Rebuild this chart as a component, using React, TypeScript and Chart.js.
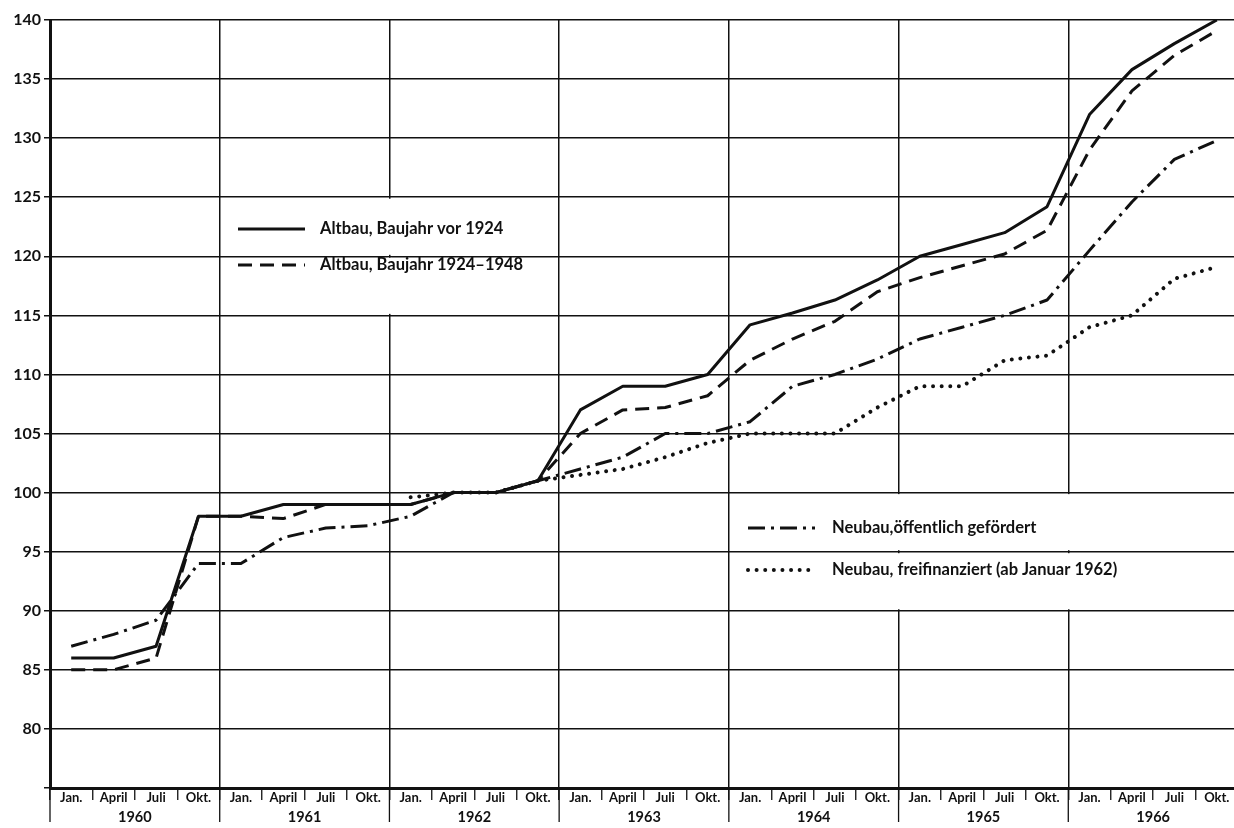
import React, { useEffect, useRef } from 'react';
import { Chart, registerables } from 'chart.js';

Chart.register(...registerables);

// ---- data ----
const quarterLabels = ['Jan.', 'April', 'Juli', 'Okt.'];
const yearLabels = ['1960', '1961', '1962', '1963', '1964', '1965', '1966'];

const altbauVor1924 = [
  86, 86, 87, 98,
  98, 99, 99, 99,
  99, 100, 100, 101,
  107, 109, 109, 110,
  114.2, 115.2, 116.3, 118,
  120, 121, 122, 124.2,
  132, 135.8, 138, 140,
];
const altbau1924bis1948 = [
  85, 85, 86, 98,
  98, 97.8, 99, 99,
  99, 100, 100, 101,
  105, 107, 107.2, 108.2,
  111.2, 113, 114.5, 117,
  118.2, 119.2, 120.2, 122.2,
  129, 134, 137, 139.1,
];
const neubauOeffentlich = [
  87, 88, 89.2, 94,
  94, 96.2, 97, 97.2,
  98, 100, 100, 101,
  102, 103, 105, 105,
  106, 109, 110, 111.3,
  113, 114, 115, 116.3,
  120.5, 124.6, 128.2, 129.8,
];
const neubauFreifinanziert = [
  null, null, null, null,
  null, null, null, null,
  99.6, 100, 100, 101,
  101.5, 102, 103, 104.2,
  105, 105, 105, 107.2,
  109, 109, 111.2, 111.6,
  114, 115, 118.1, 119.1,
];

const seriesNames = [
  'Altbau, Baujahr vor 1924',
  'Altbau, Baujahr 1924\u20131948',
  'Neubau,\u00f6ffentlich gef\u00f6rdert',
  'Neubau, freifinanziert (ab Januar 1962)',
];

const categories: string[] = [];
yearLabels.forEach(() => quarterLabels.forEach((q) => categories.push(q)));

const FONT = 'Lato, "Open Sans", sans-serif';
const INK = '#111';

const dashes: number[][] = [[], [14, 8], [17, 6, 3, 6], [0.01, 8.6]];
const widths = [3, 3, 3, 4];
const caps = ['butt', 'butt', 'butt', 'round'];

const overlayPlugin = {
  id: 'overlay',
  beforeDatasetsDraw(chart: any) {
    const { ctx } = chart;
    const xs = chart.scales.x;
    const ys = chart.scales.y;
    const half = (xs.getPixelForValue(1) - xs.getPixelForValue(0)) / 2;
    const gaps = [
      { idx: 8, top: 125, mid: 120, bottom: 115 },
      { idx: 20, top: 100, mid: 95, bottom: 90 },
      { idx: 24, top: 100, mid: 95, bottom: 90 },
    ];
    ctx.save();
    ctx.fillStyle = '#fff';
    gaps.forEach((g) => {
      const x = xs.getPixelForValue(g.idx) - half;
      const yt = ys.getPixelForValue(g.top);
      const ym = ys.getPixelForValue(g.mid);
      const yb = ys.getPixelForValue(g.bottom);
      ctx.fillRect(x - 2, yt + 1.5, 4, ym - yt - 3);
      ctx.fillRect(x - 2, ym + 1.5, 4, yb - ym - 3);
    });
    ctx.restore();
  },
  afterDraw(chart: any) {
    const { ctx } = chart;
    const xs = chart.scales.x;
    const half = (xs.getPixelForValue(1) - xs.getPixelForValue(0)) / 2;
    const axisY = chart.chartArea.bottom;
    ctx.save();
    // year separators and year labels
    ctx.strokeStyle = INK;
    ctx.lineWidth = 1.3;
    ctx.fillStyle = INK;
    ctx.font = `bold 14.5px ${FONT}`;
    ctx.textAlign = 'center';
    ctx.textBaseline = 'middle';
    yearLabels.forEach((yr, k) => {
      const xl = xs.getPixelForValue(k * 4) - half;
      ctx.beginPath();
      ctx.moveTo(xl, axisY);
      ctx.lineTo(xl, axisY + 34);
      ctx.stroke();
      const xc = (xs.getPixelForValue(k * 4 + 1) + xs.getPixelForValue(k * 4 + 2)) / 2;
      ctx.fillText(yr, xc, axisY + 29);
    });
    // legend
    const entries = [
      { i: 0, x0: 238, x1: 305, tx: 320, y: 229 },
      { i: 1, x0: 238, x1: 305, tx: 320, y: 265 },
      { i: 2, x0: 748, x1: 815, tx: 832, y: 528 },
      { i: 3, x0: 748, x1: 815, tx: 832, y: 570 },
    ];
    entries.forEach((e) => {
      ctx.beginPath();
      ctx.setLineDash(dashes[e.i]);
      ctx.lineWidth = widths[e.i];
      ctx.lineCap = caps[e.i];
      ctx.strokeStyle = INK;
      ctx.moveTo(e.x0, e.y);
      ctx.lineTo(e.x1, e.y);
      ctx.stroke();
      ctx.setLineDash([]);
      ctx.fillStyle = INK;
      ctx.font = `bold 16.5px ${FONT}`;
      ctx.textBaseline = 'middle';
      ctx.textAlign = 'left';
      ctx.fillText(seriesNames[e.i], e.tx, e.y);
    });
    ctx.restore();
  },
};

export default function App() {
  const ref = useRef<HTMLCanvasElement | null>(null);

  useEffect(() => {
    document.body.style.margin = '0';
    const canvas = ref.current;
    if (!canvas) return;
    const seriesData = [altbauVor1924, altbau1924bis1948, neubauOeffentlich, neubauFreifinanziert];
    const chart = new Chart(canvas, {
      type: 'line',
      data: {
        labels: categories,
        datasets: seriesData.map((d, i) => ({
          label: seriesNames[i],
          data: d,
          borderColor: INK,
          borderWidth: widths[i],
          borderDash: dashes[i],
          borderCapStyle: caps[i] as any,
          borderJoinStyle: 'round' as any,
          pointRadius: 0,
          tension: 0,
          fill: false,
        })),
      },
      options: {
        responsive: false,
        animation: false,
        devicePixelRatio: 1,
        layout: { padding: { top: 20, left: 0, right: 0, bottom: 0 } },
        plugins: {
          legend: { display: false },
          tooltip: { enabled: false },
        },
        scales: {
          x: {
            type: 'category',
            position: 'bottom',
            offset: true,
            grid: {
              offset: true,
              color: (c: any) => (c.index % 4 === 0 ? INK : 'rgba(0,0,0,0)'),
              lineWidth: 1.5,
              tickColor: INK,
              tickWidth: 1.3,
              tickLength: 12,
            },
            border: { display: true, color: INK, width: 3 },
            ticks: {
              autoSkip: false,
              maxRotation: 0,
              padding: -10,
              color: INK,
              font: { family: FONT, size: 13, weight: 'bold' },
            },
            afterFit: (s: any) => {
              s.height = 40;
            },
          },
          y: {
            type: 'linear',
            min: 75,
            max: 140,
            ticks: {
              stepSize: 5,
              padding: 3,
              color: INK,
              font: { family: FONT, size: 16, weight: 'bold' },
              callback: (v: any) => (v === 75 ? '' : String(v)),
            },
            grid: {
              color: INK,
              lineWidth: 1.5,
              tickColor: INK,
              tickLength: 6,
              tickWidth: 1.5,
            },
            border: { display: true, color: INK, width: 3 },
            afterFit: (s: any) => {
              s.width = 50;
            },
          },
        },
      },
      plugins: [overlayPlugin],
    });
    return () => chart.destroy();
  }, []);

  return (
    <div style={{ position: 'fixed', left: 0, top: 0, width: 1234, height: 828, overflow: 'hidden', background: '#fff' }}>
      <canvas ref={ref} width={1238} height={828} style={{ display: 'block' }} />
    </div>
  );
}
